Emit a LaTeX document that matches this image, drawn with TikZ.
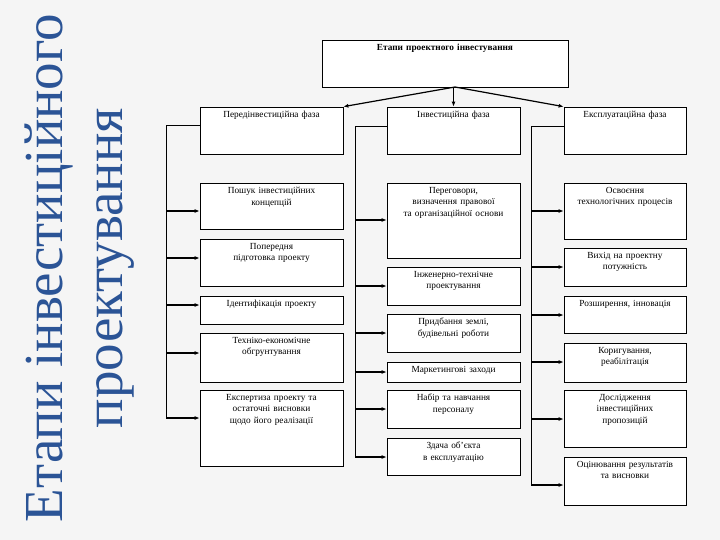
\documentclass[tikz,border=0pt]{standalone}
\usepackage{fontspec}
\setmainfont{Liberation Serif}
\usetikzlibrary{arrows.meta}
\definecolor{ttl}{HTML}{2B5496}
\newcommand\mkbox[6]{%
  \node[bx,minimum width={(#4-#2)*1pt},minimum height={(#5-#3)*1pt}] (#1) at ({(#2+#4)/2*1pt},{-(#3+#5)/2*1pt}) {};
  \node[anchor=north,text width={(#4-#2-22)*1pt},align=center,font=\fontsize{9.3}{11.5}\selectfont,inner sep=0] at ({(#2+#4)/2*1pt},{-(#3+4)*1pt}) {#6};}
\begin{document}
\begin{tikzpicture}[x=1pt,y=1pt,
  bx/.style={draw,line width=0.7pt,inner sep=0,fill=white},
  ln/.style={line width=0.9pt},
  ar/.style={line width=1.2pt,-{Latex[length=5pt,width=4pt]}}]
\fill[gray!8] (0,0) rectangle (720,-540);
\useasboundingbox (0,0) rectangle (720,-540);
\node[rotate=90,text=ttl,align=center,font=\fontsize{55}{60}\selectfont] (title) at (80,-268) {Етапи інвестиційного\\проектування};
\mkbox{top}{322}{40}{568}{87}{\textbf{Етапи проектного інвестування}}
\mkbox{p0}{200}{107}{343}{154}{Передінвестиційна фаза}
\mkbox{p1}{200}{183}{343}{229}{Пошук інвестиційних концепцій}
\mkbox{p2}{200}{239}{343}{286}{Попередня підготовка проекту}
\mkbox{p3}{200}{296}{343}{324}{Ідентифікація проекту}
\mkbox{p4}{200}{333}{343}{382}{Техніко-економічне обгрунтування}
\mkbox{p5}{200}{390}{343}{466}{Експертиза проекту та остаточні висновки щодо його реалізації}
\mkbox{i0}{387}{107}{520}{154}{Інвестиційна фаза}
\mkbox{i1}{387}{183}{520}{258}{Переговори, визначення правової та організаційної основи}
\mkbox{i2}{387}{267}{520}{305}{Інженерно-технічне проектування}
\mkbox{i3}{387}{314}{520}{352}{Придбання землі, будівельні роботи}
\mkbox{i4}{387}{362}{520}{382}{Маркетингові заходи}
\mkbox{i5}{387}{390}{520}{428}{Набір та навчання персоналу}
\mkbox{i6}{387}{438}{520}{475}{Здача об'єкта в експлуатацію}
\mkbox{e0}{564}{107}{686}{154}{Експлуатаційна фаза}
\mkbox{e1}{564}{183}{686}{239}{Освоєння технологічних процесів}
\mkbox{e2}{564}{248}{686}{286}{Вихід на проектну потужність}
\mkbox{e3}{564}{296}{686}{333}{Розширення, інновація}
\mkbox{e4}{564}{343}{686}{382}{Коригування, реабілітація}
\mkbox{e5}{564}{390}{686}{447}{Дослідження інвестиційних пропозицій}
\mkbox{e6}{564}{457}{686}{505}{Оцінювання результатів та висновки}
\coordinate (tc) at (455,-87);
\draw[ar] (tc) -- (p0.north east);
\draw[ar] (top.south -| i0.north) -- (i0.north);
\draw[ar] (tc) -- (e0.north west);
\coordinate (sp) at (166,-125);
\coordinate (si) at (355,-126);
\coordinate (se) at (531,-126);
\draw[ln] (p0.west |- sp) -- (sp) -- (166,-418);
\draw[ln] (i0.west |- si) -- (si) -- (355,-457);
\draw[ln] (e0.west |- se) -- (se) -- (531,-485);
\foreach \n/\y in {p1/211,p2/258,p3/305,p4/353,p5/418} \draw[ar] (166,-\y) -- (\n.west |- 0,-\y);
\foreach \n/\y in {i1/220,i2/286,i3/333,i4/372,i5/409,i6/457} \draw[ar] (355,-\y) -- (\n.west |- 0,-\y);
\foreach \n/\y in {e1/211,e2/267,e3/315,e4/362,e5/419,e6/485} \draw[ar] (531,-\y) -- (\n.west |- 0,-\y);
\end{tikzpicture}
\end{document}
